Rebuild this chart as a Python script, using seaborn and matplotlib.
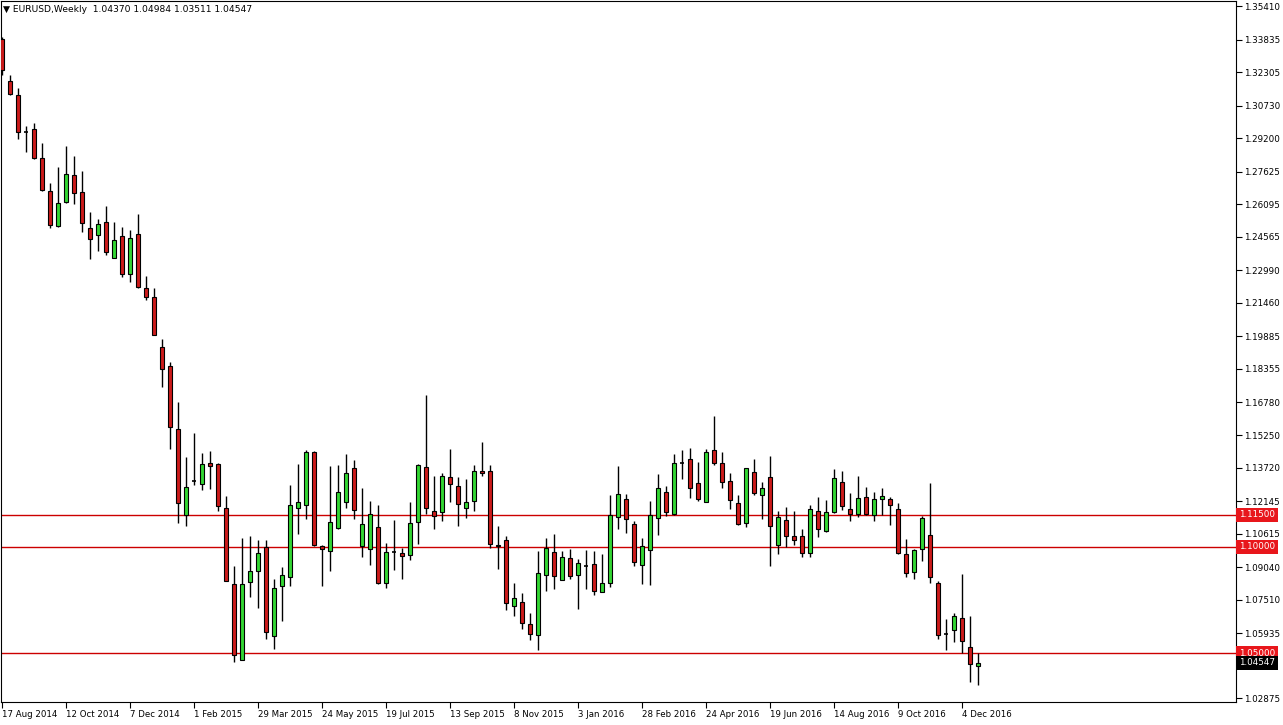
import matplotlib
matplotlib.use("Agg")
import matplotlib.pyplot as plt
import matplotlib.transforms as mtransforms
import seaborn as sns

# ---- data (EURUSD weekly) ----
opens = [1.3385, 1.3188, 1.3122, 1.2947, 1.2963, 1.2827, 1.2672, 1.2506, 1.2622, 1.2747,
         1.2668, 1.2499, 1.2467, 1.2527, 1.2358, 1.2461, 1.2283, 1.2471, 1.2218, 1.2175,
         1.1938, 1.1849, 1.1552, 1.1150, 1.1310, 1.1294, 1.1392, 1.1389, 1.1182, 1.0825,
         1.0469, 1.0835, 1.0886, 1.0997, 1.0580, 1.0814, 1.0858, 1.1184, 1.1196, 1.1444,
         1.1005, 1.0980, 1.1089, 1.1210, 1.1369, 1.1001, 1.0989, 1.1092, 1.0830, 1.0977,
         1.0970, 1.0963, 1.1116, 1.1374, 1.1167, 1.1163, 1.1327, 1.1283, 1.1182, 1.1214,
         1.1356, 1.1355, 1.1010, 1.1032, 1.0723, 1.0741, 1.0638, 1.0586, 1.0866, 1.0975,
         1.0845, 1.0947, 1.0866, 1.0911, 1.0919, 1.0788, 1.0830, 1.1139, 1.1226, 1.1107,
         1.0914, 1.0986, 1.1135, 1.1256, 1.1156, 1.1395, 1.1411, 1.1299, 1.1212, 1.1455,
         1.1392, 1.1310, 1.1205, 1.1111, 1.1352, 1.1241, 1.1327, 1.1006, 1.1127, 1.1052,
         1.1048, 1.0970, 1.1170, 1.1072, 1.1163, 1.1303, 1.1177, 1.1153, 1.1233, 1.1150,
         1.1224, 1.1224, 1.1177, 1.0966, 1.0881, 1.0989, 1.1053, 1.0830, 1.0591, 1.0610,
         1.0666, 1.0530, 1.04370]
highs = [1.3396, 1.3218, 1.3155, 1.2978, 1.2992, 1.2897, 1.2710, 1.2786, 1.2885, 1.2838,
         1.2767, 1.2575, 1.2541, 1.2600, 1.2528, 1.2502, 1.2489, 1.2564, 1.2271, 1.2216,
         1.1977, 1.1866, 1.1681, 1.1421, 1.1533, 1.1439, 1.1450, 1.1395, 1.1239, 1.0908,
         1.1041, 1.1052, 1.1030, 1.1033, 1.0849, 1.0903, 1.1291, 1.1389, 1.1455, 1.1449,
         1.1010, 1.1381, 1.1386, 1.1436, 1.1408, 1.1278, 1.1216, 1.1196, 1.1017, 1.1127,
         1.0994, 1.1210, 1.1390, 1.1713, 1.1333, 1.1348, 1.1460, 1.1327, 1.1317, 1.1385,
         1.1491, 1.1385, 1.1096, 1.1048, 1.0830, 1.0783, 1.0689, 1.0981, 1.1041, 1.1061,
         1.0981, 1.0989, 1.0942, 1.0986, 1.0978, 1.0967, 1.1244, 1.1377, 1.1248, 1.1119,
         1.1041, 1.1217, 1.1342, 1.1286, 1.1436, 1.1455, 1.1463, 1.1400, 1.1458, 1.1614,
         1.1444, 1.1346, 1.1244, 1.1370, 1.1411, 1.1302, 1.1427, 1.1166, 1.1186, 1.1166,
         1.1083, 1.1197, 1.1233, 1.1220, 1.1366, 1.1356, 1.1252, 1.1330, 1.1280, 1.1256,
         1.1275, 1.1233, 1.1205, 1.1037, 1.0989, 1.1142, 1.1299, 1.0841, 1.0658, 1.0689,
         1.0872, 1.0673, 1.04984]
lows = [1.3216, 1.3122, 1.2916, 1.2853, 1.2824, 1.2670, 1.2497, 1.2502, 1.2614, 1.2611,
        1.2478, 1.2354, 1.2392, 1.2369, 1.2357, 1.2267, 1.2244, 1.2218, 1.2161, 1.1996,
        1.1752, 1.1458, 1.1111, 1.1099, 1.1291, 1.1267, 1.1272, 1.1169, 1.0838, 1.0458,
        1.0468, 1.0762, 1.0711, 1.0567, 1.0520, 1.0653, 1.0814, 1.1061, 1.1130, 1.1005,
        1.0814, 1.0884, 1.1081, 1.1183, 1.1128, 1.0950, 1.0912, 1.0827, 1.0805, 1.0891,
        1.0849, 1.0939, 1.1014, 1.1153, 1.1083, 1.1119, 1.1211, 1.1099, 1.1133, 1.1170,
        1.1330, 1.0994, 1.0896, 1.0701, 1.0673, 1.0611, 1.0561, 1.0514, 1.0791, 1.0799,
        1.0842, 1.0849, 1.0705, 1.0799, 1.0775, 1.0787, 1.0811, 1.1083, 1.1064, 1.0911,
        1.0827, 1.0819, 1.1053, 1.1142, 1.1150, 1.1317, 1.1228, 1.1216, 1.1211, 1.1385,
        1.1278, 1.1177, 1.1103, 1.1093, 1.1241, 1.1130, 1.0908, 1.0967, 1.0999, 1.1009,
        1.0950, 1.0950, 1.1044, 1.1067, 1.1158, 1.1174, 1.1119, 1.1139, 1.1150, 1.1119,
        1.1150, 1.1100, 1.0967, 1.0856, 1.0849, 1.0931, 1.0830, 1.0564, 1.0514, 1.0552,
        1.0502, 1.0364, 1.03511]
closes = [1.3240, 1.3127, 1.2949, 1.2947, 1.2827, 1.2677, 1.2513, 1.2616, 1.2752, 1.2661,
          1.2522, 1.2447, 1.2518, 1.2386, 1.2443, 1.2283, 1.2452, 1.2220, 1.2174, 1.1997,
          1.1833, 1.1564, 1.1205, 1.1280, 1.1310, 1.1388, 1.1378, 1.1189, 1.0839, 1.0489,
          1.0825, 1.0886, 1.0971, 1.0598, 1.0808, 1.0867, 1.1196, 1.1211, 1.1444, 1.1009,
          1.0991, 1.1117, 1.1258, 1.1347, 1.1172, 1.1107, 1.1153, 1.0828, 1.0975, 1.0977,
          1.0955, 1.1111, 1.1383, 1.1182, 1.1142, 1.1332, 1.1294, 1.1200, 1.1210, 1.1356,
          1.1346, 1.1013, 1.1002, 1.0736, 1.0760, 1.0642, 1.0591, 1.0877, 1.0994, 1.0861,
          1.0952, 1.0861, 1.0924, 1.0911, 1.0791, 1.0830, 1.1150, 1.1247, 1.1131, 1.0928,
          1.1001, 1.1147, 1.1275, 1.1163, 1.1392, 1.1395, 1.1278, 1.1224, 1.1447, 1.1395,
          1.1303, 1.1220, 1.1108, 1.1369, 1.1252, 1.1275, 1.1095, 1.1139, 1.1048, 1.1033,
          1.0970, 1.1177, 1.1083, 1.1163, 1.1322, 1.1192, 1.1153, 1.1228, 1.1153, 1.1224,
          1.1239, 1.1194, 1.0970, 1.0877, 1.0986, 1.1135, 1.0858, 1.0586, 1.0591, 1.0672,
          1.0556, 1.0450, 1.04547]

date_labels = ["17 Aug 2014", "12 Oct 2014", "7 Dec 2014", "1 Feb 2015", "29 Mar 2015",
               "24 May 2015", "19 Jul 2015", "13 Sep 2015", "8 Nov 2015", "3 Jan 2016",
               "28 Feb 2016", "24 Apr 2016", "19 Jun 2016", "14 Aug 2016", "9 Oct 2016",
               "4 Dec 2016"]
price_ticks = [1.35410, 1.33835, 1.32305, 1.30730, 1.29200, 1.27625, 1.26095, 1.24565,
               1.22990, 1.21460, 1.19885, 1.18355, 1.16780, 1.15250, 1.13720, 1.12145,
               1.10615, 1.09040, 1.07510, 1.05935, 1.02875]
level_lines = [1.11500, 1.10000, 1.05000]
last_price = 1.04547
header = "\u25BC EURUSD,Weekly  1.04370 1.04984 1.03511 1.04547"

# ---- style ----
sns.set_theme(style="white")
plt.rcParams['font.family'] = ['DejaVu Sans']

W, H = 1283, 725
fig = plt.figure(figsize=(W / 100, H / 100), dpi=100)
fig.patch.set_facecolor("white")
ax = fig.add_axes([1 / W, 23 / H, 1235 / W, 701 / H])
ax.set_facecolor("white")

BULL = "#33d633"
BEAR = "#cc1b1b"
n = len(opens)
xs = list(range(n))

# wicks
ax.vlines(xs, lows, highs, color="black", linewidth=1.0, zorder=2)

# bodies
bw = 0.62
for i in xs:
    o, c = opens[i], closes[i]
    if abs(c - o) < 1e-9:
        ax.hlines(o, i - bw / 2, i + bw / 2, color="black", linewidth=1.2, zorder=3)
    else:
        ax.bar(i, abs(c - o), bottom=min(o, c), width=bw,
               color=BULL if c > o else BEAR, edgecolor="black",
               linewidth=0.8, zorder=3)

# horizontal levels and price tags
trans = mtransforms.blended_transform_factory(ax.transAxes, ax.transData)
for lvl in level_lines:
    ax.axhline(lvl, color="#cc0000", linewidth=1.0, zorder=1)
    ax.text(1.0 + 3 / 1235, lvl, f"{lvl:.5f}", transform=trans, color="white",
            fontsize=6.3, va="center", ha="left", clip_on=False, zorder=6,
            bbox=dict(boxstyle="square,pad=0.3", fc="#e8161b", ec="none"))
ax.text(1.0 + 3 / 1235, last_price, f"{last_price:.5f}", transform=trans, color="white",
        fontsize=6.3, va="center", ha="left", clip_on=False, zorder=7,
        bbox=dict(boxstyle="square,pad=0.3", fc="black", ec="none"))

# axes limits
ax.set_xlim(-0.125, 154.25)
ax.set_ylim(1.0270, 1.3565)

# y axis on the right
ax.yaxis.tick_right()
ax.set_yticks(price_ticks)
ax.set_yticklabels([f"{p:.5f}" for p in price_ticks])
ax.tick_params(axis="y", which="both", right=True, left=False, length=4, width=0.8,
               color="black", labelsize=6.3, pad=2, labelcolor="black")

# x axis date labels
ax.set_xticks(list(range(0, 8 * len(date_labels), 8)))
ax.set_xticklabels(date_labels, ha="left")
ax.tick_params(axis="x", which="both", bottom=True, length=4, width=0.8,
               color="black", labelsize=6.2, pad=2, labelcolor="black")

for sp in ax.spines.values():
    sp.set_color("black")
    sp.set_linewidth(0.8)
    sp.set_visible(True)
ax.grid(False)

fig.text(3 / W, 1 - 10 / H, header, fontsize=6.6, va="center", ha="left", color="black")

fig.savefig("out.png", dpi=100, facecolor="white")
